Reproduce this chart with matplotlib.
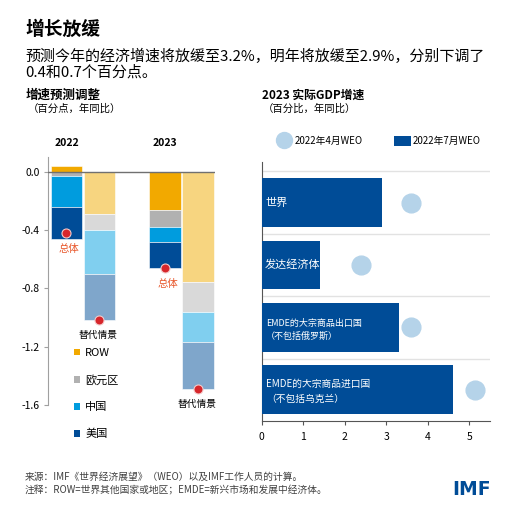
import numpy as np
import matplotlib
matplotlib.use('Agg')
import matplotlib.pyplot as plt
from matplotlib.patches import Patch
from matplotlib.lines import Line2D

plt.rcParams['font.family'] = ['Noto Sans CJK SC', 'DejaVu Sans']
plt.rcParams['axes.unicode_minus'] = False

#---------------------------------- data ----------------------------------------
years = ['2022', '2023']
parts = ['ROW', '欧元区', '中国', '美国']

# forecast revisions (percentage points), actual July scenario
row_act = [0.04, -0.26]
euro_act = [-0.03, -0.12]
china_act = [-0.21, -0.10]
us_act = [-0.22, -0.18]
total_act = [-0.42, -0.66]

# alternative (downside) scenario
row_alt = [-0.29, -0.76]
euro_alt = [-0.11, -0.20]
china_alt = [-0.30, -0.21]
us_alt = [-0.32, -0.32]
total_alt = [-1.02, -1.49]

# 2023 real GDP growth
groups = ['世界', '发达经济体', 'EMDE的大宗商品出口国\n（不包括俄罗斯）', 'EMDE的大宗商品进口国\n（不包括乌克兰）']
weo_apr = [3.6, 2.4, 3.6, 5.15]
weo_jul = [2.9, 1.4, 3.3, 4.6]

#---------------------------------- style ---------------------------------------
col_act = ['#F2A900', '#B1B1B1', '#009CDE', '#004C97']
col_alt = ['#F7D580', '#D9D9D9', '#80CFEF', '#7FA6CB']
dark_blue = '#004C97'
light_blue = '#B5D3E9'
red = '#D7262B'
orange = '#E8562A'

W = 516.0
def fx(px):
    return px / W
def fy(py):
    return 1 - py / W

fig = plt.figure(figsize=(5.16, 5.16), dpi=100)

# header texts
fig.text(fx(25), fy(29), '增长放缓', fontsize=13.5, fontweight='bold', va='center')
fig.text(fx(25), fy(56), '预测今年的经济增速将放缓至3.2%，明年将放缓至2.9%，分别下调了', fontsize=10.8, va='center')
fig.text(fx(25), fy(72.5), '0.4和0.7个百分点。', fontsize=10.8, va='center')

fig.text(fx(26), fy(95), '增速预测调整', fontsize=9, fontweight='bold', va='center')
fig.text(fx(28), fy(108.5), '（百分点，年同比）', fontsize=7.5, va='center')
fig.text(fx(262), fy(95), '2023 实际GDP增速', fontsize=8.5, fontweight='bold', va='center')
fig.text(fx(263), fy(108.5), '（百分比，年同比）', fontsize=7.5, va='center')

#------------------------------ left: revisions ---------------------------------
ax = fig.add_axes([fx(48), fy(405), (215 - 48) / W, (405 - 157) / W])
x = np.arange(len(years))
off = 0.1675
bw = 0.315

def stack(ax, xpos, series, colors):
    pos = np.zeros(len(xpos))
    neg = np.zeros(len(xpos))
    for vals, c in zip(series, colors):
        vals = np.array(vals)
        base = np.where(vals >= 0, pos, neg)
        ax.bar(xpos, vals, bw, bottom=base, color=c, edgecolor='white', linewidth=0.4)
        pos = pos + np.where(vals >= 0, vals, 0)
        neg = neg + np.where(vals < 0, vals, 0)

stack(ax, x - off, [row_act, euro_act, china_act, us_act], col_act)
stack(ax, x + off, [row_alt, euro_alt, china_alt, us_alt], col_alt)

ax.plot(x - off, total_act, 'o', color=red, markersize=6.5, markeredgecolor='#F3C9C9', markeredgewidth=0.8, zorder=5)
ax.plot(x + off, total_alt, 'o', color=red, markersize=6.5, markeredgecolor='#F3C9C9', markeredgewidth=0.8, zorder=5)
for i in range(len(years)):
    ax.annotate('总体', (x[i] - off, total_act[i]), xytext=(2, -11.5), textcoords='offset points',
                ha='center', va='center', fontsize=7.5, color=orange)
    ax.annotate('替代情景', (x[i] + off, total_alt[i]), xytext=(-1, -10.5), textcoords='offset points',
                ha='center', va='center', fontsize=7)

ax.axhline(0, color='#707070', lw=1, zorder=4)
ax.set_xlim(-0.355, 1.34)
ax.set_ylim(-1.6, 0.1)
ax.set_yticks([0.0, -0.4, -0.8, -1.2, -1.6])
ax.yaxis.set_major_formatter(matplotlib.ticker.FormatStrFormatter('%.1f'))
ax.set_xticks([])
for s in ['top', 'right', 'bottom']:
    ax.spines[s].set_visible(False)
ax.spines['left'].set_color('#A0A0A0')
ax.tick_params(axis='y', length=3, color='#A0A0A0', labelsize=7.5, pad=3)

fig.text(fx(66.7), fy(143), years[0], fontsize=7.5, fontweight='bold', ha='center', va='center')
fig.text(fx(165), fy(143), years[1], fontsize=7.5, fontweight='bold', ha='center', va='center')

handles = [Patch(facecolor=c) for c in col_act]
ax.legend(handles, parts, loc='upper left', bbox_to_anchor=(fx(74), fy(348)), bbox_transform=fig.transFigure,
          frameon=False, fontsize=8, handlelength=0.55, handleheight=0.55, handletextpad=0.45,
          labelspacing=1.5, borderpad=0, borderaxespad=0)

#------------------------------ right: GDP growth -------------------------------
ax2 = fig.add_axes([fx(261.7), fy(421), (490 - 261.7) / W, (421 - 162) / W])
y = np.arange(len(groups))
ax2.barh(y, weo_jul, 0.78, color=dark_blue, zorder=3)
ax2.plot(weo_apr, y, 'o', color=light_blue, markersize=13.5, zorder=4)
for yy in [-0.5, 0.5, 1.5, 2.5]:
    ax2.axhline(yy, color='#E2E2E2', lw=1, zorder=1)

label_size = [8, 8, 6.5, 7]
label_x = [0.1, 0.06, 0.1, 0.1]
label_y = [0, 0, 0.04, 0.03]
for i, g in enumerate(groups):
    ax2.text(label_x[i], y[i] + label_y[i], g, color='white', fontsize=label_size[i], va='center', ha='left',
             linespacing=1.6, zorder=5)

ax2.set_xlim(0, 5.5)
ax2.set_ylim(3.5, -0.65)
ax2.set_yticks([])
ax2.set_xticks(range(6))
for s in ['top', 'right']:
    ax2.spines[s].set_visible(False)
ax2.spines['left'].set_color('#555555')
ax2.spines['bottom'].set_color('#555555')
ax2.tick_params(axis='x', length=3, color='#555555', labelsize=7.5, pad=5)

h2 = [Line2D([], [], marker='o', ls='', markersize=11.5, color=light_blue), Patch(facecolor=dark_blue)]
ax2.legend(h2, ['2022年4月WEO', '2022年7月WEO'], ncol=2, loc='center left', bbox_to_anchor=(fx(275), fy(141)),
           bbox_transform=fig.transFigure, frameon=False, fontsize=7, handlelength=1.75, handleheight=1.3,
           handletextpad=0.25, columnspacing=3.2, borderpad=0, borderaxespad=0)

#---------------------------------- footer --------------------------------------
fig.text(fx(25), fy(476.5), '来源：IMF《世界经济展望》（WEO）以及IMF工作人员的计算。', fontsize=7, color='#404040', va='center')
fig.text(fx(25), fy(490), '注释：ROW=世界其他国家或地区；EMDE=新兴市场和发展中经济体。', fontsize=7, color='#404040', va='center')
fig.text(fx(491), fy(489.5), 'IMF', fontsize=13.5, fontweight='bold', color=dark_blue, ha='right', va='center',
         family='DejaVu Sans')

fig.savefig('out.png', dpi=100)
